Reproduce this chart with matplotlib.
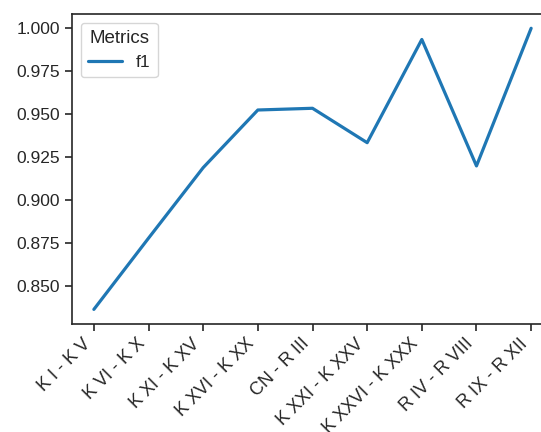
import matplotlib
matplotlib.use("Agg")
import matplotlib.pyplot as plt
import seaborn as sns
import pandas as pd
from matplotlib.ticker import MultipleLocator, FormatStrFormatter

# tick labels and f1 scores
categories = ["K I - K V", "K VI - K X", "K XI - K XV", "K XVI - K XX", "CN - R III",
              "K XXI - K XXV", "K XXVI - K XXX", "R IV - R VIII", "R IX - R XII"]
f1 = [0.8366, 0.878, 0.919, 0.9525, 0.9535, 0.9335, 0.9935, 0.9200, 1.000]

df = pd.DataFrame({"range": categories, "value": f1, "Metrics": "f1"})

sns.set_style("ticks")
plt.rcParams["font.family"] = ["Liberation Sans", "DejaVu Sans"]

fig = plt.figure(figsize=(5.41, 4.32), dpi=100)
# the reference is cropped on the right and bottom, so the axes run past the figure edge
ax = fig.add_axes([72 / 541, (432 - 323.5) / 432, (553 - 72) / 541, (323.5 - 14) / 432])

sns.lineplot(data=df, x="range", y="value", hue="Metrics", sort=False,
             linewidth=2.3, palette=["#1f77b4"], ax=ax)

ax.set_xlim(-0.4, len(categories) - 1 + 0.4)
ax.set_ylim(0.8284, 1.0083)
ax.yaxis.set_major_locator(MultipleLocator(0.025))
ax.yaxis.set_major_formatter(FormatStrFormatter("%.3f"))

ax.set_xlabel("")
ax.set_ylabel("")
ax.tick_params(axis="both", labelsize=12.5, length=5, width=1.2)
ax.tick_params(axis="x", labelsize=13)
for s in ax.spines.values():
    s.set_linewidth(1.2)
plt.setp(ax.get_xticklabels(), rotation=45, ha="right")

leg = ax.legend(title="Metrics", loc="upper left", fontsize=12.5, title_fontsize=13.5)

fig.savefig("out.png", dpi=100)
